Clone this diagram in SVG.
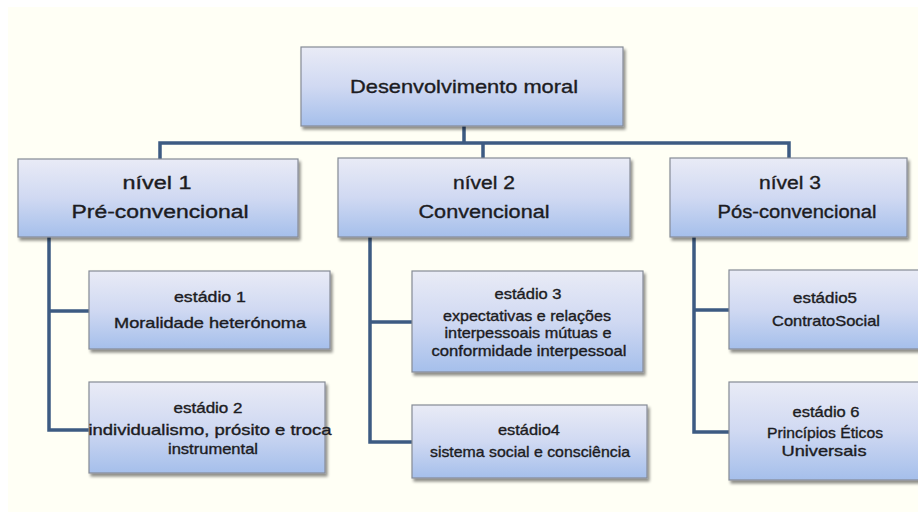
<svg xmlns="http://www.w3.org/2000/svg" width="918" height="518" viewBox="0 0 918 518">
  <defs>
    <linearGradient id="boxFill" x1="0" y1="0" x2="0" y2="1">
      <stop offset="0" stop-color="#e9ebf6"/>
      <stop offset="0.5" stop-color="#d0d9f2"/>
      <stop offset="1" stop-color="#a5bfeb"/>
    </linearGradient>
    <filter id="shadow" x="-5%" y="-5%" width="115%" height="120%">
      <feGaussianBlur in="SourceAlpha" stdDeviation="1.6"/>
      <feOffset dx="2" dy="2.5" result="b"/>
      <feComponentTransfer><feFuncA type="linear" slope="0.45"/></feComponentTransfer>
      <feMerge><feMergeNode/><feMergeNode in="SourceGraphic"/></feMerge>
    </filter>
  </defs>
  <style>
    .box { fill: url(#boxFill); stroke: #858b96; stroke-width: 1.2; filter: url(#shadow); }
    .t { font-family: "Liberation Sans", Arial, sans-serif; fill: #1c1c22; stroke: #1c1c22; stroke-width: 0.35; text-anchor: middle; }
    .top { font-size: 19px; }
    .lvl { font-size: 18px; }
    .st { font-size: 14.5px; }
    .conn { fill: none; stroke: #3d5b82; stroke-width: 3.5; stroke-linejoin: miter; }
  </style>

  <!-- page -->
  <rect x="0" y="0" width="918" height="518" fill="#ffffff"/>
  <rect x="8" y="7" width="910" height="505" fill="#fffff5"/>

  <!-- connectors -->
  <g id="connectors">
    <path class="conn" d="M464 126 V143 M160 159 V143 H789 V158 M483 143 V158"/>
    <path class="conn" d="M49 237 V430 H89 M49 311 H89"/>
    <path class="conn" d="M370 237 V442 H412 M370 322 H412"/>
    <path class="conn" d="M694 237 V432 H729 M694 310 H729"/>
  </g>

  <!-- root -->
  <g id="node-root">
    <rect class="box" x="301" y="47" width="322" height="79"/>
    <text class="t top" x="464" y="93" textLength="228" lengthAdjust="spacingAndGlyphs">Desenvolvimento moral</text>
  </g>

  <!-- levels -->
  <g id="node-nivel1">
    <rect class="box" x="18" y="159" width="280" height="78"/>
    <text class="t lvl" x="157" y="189" textLength="69" lengthAdjust="spacingAndGlyphs">nível 1</text>
    <text class="t lvl" x="160" y="218" textLength="177" lengthAdjust="spacingAndGlyphs">Pré-convencional</text>
  </g>
  <g id="node-nivel2">
    <rect class="box" x="338" y="158" width="292" height="79"/>
    <text class="t lvl" x="484" y="189" textLength="62" lengthAdjust="spacingAndGlyphs">nível 2</text>
    <text class="t lvl" x="484" y="218" textLength="131" lengthAdjust="spacingAndGlyphs">Convencional</text>
  </g>
  <g id="node-nivel3">
    <rect class="box" x="670" y="158" width="237" height="79"/>
    <text class="t lvl" x="790" y="189" textLength="62" lengthAdjust="spacingAndGlyphs">nível 3</text>
    <text class="t lvl" x="797" y="218" textLength="159" lengthAdjust="spacingAndGlyphs">Pós-convencional</text>
  </g>

  <!-- stages -->
  <g id="node-estadio1">
    <rect class="box" x="89" y="271" width="241" height="78"/>
    <text class="t st" x="210" y="302" textLength="72" lengthAdjust="spacingAndGlyphs">estádio 1</text>
    <text class="t st" x="210" y="328" textLength="192" lengthAdjust="spacingAndGlyphs">Moralidade heterónoma</text>
  </g>
  <g id="node-estadio2">
    <rect class="box" x="89" y="382" width="236" height="91"/>
    <text class="t st" x="208" y="413" textLength="69" lengthAdjust="spacingAndGlyphs">estádio 2</text>
    <text class="t st" x="210" y="435" textLength="243" lengthAdjust="spacingAndGlyphs">individualismo, prósito e troca</text>
    <text class="t st" x="213" y="454" textLength="90" lengthAdjust="spacingAndGlyphs">instrumental</text>
  </g>
  <g id="node-estadio3">
    <rect class="box" x="412" y="271" width="231" height="101"/>
    <text class="t st" x="528" y="299" textLength="67" lengthAdjust="spacingAndGlyphs">estádio 3</text>
    <text class="t st" x="527" y="321" textLength="168" lengthAdjust="spacingAndGlyphs">expectativas e relações</text>
    <text class="t st" x="528" y="338" textLength="167" lengthAdjust="spacingAndGlyphs">interpessoais mútuas e</text>
    <text class="t st" x="529" y="356" textLength="195" lengthAdjust="spacingAndGlyphs">conformidade interpessoal</text>
  </g>
  <g id="node-estadio4">
    <rect class="box" x="412" y="405" width="235" height="73"/>
    <text class="t st" x="529" y="435" textLength="62" lengthAdjust="spacingAndGlyphs">estádio4</text>
    <text class="t st" x="530" y="457" textLength="200" lengthAdjust="spacingAndGlyphs">sistema social e consciência</text>
  </g>
  <g id="node-estadio5">
    <rect class="box" x="729" y="270" width="192" height="79"/>
    <text class="t st" x="825" y="303" textLength="64" lengthAdjust="spacingAndGlyphs">estádio5</text>
    <text class="t st" x="826" y="326" textLength="108" lengthAdjust="spacingAndGlyphs">ContratoSocial</text>
  </g>
  <g id="node-estadio6">
    <rect class="box" x="729" y="382" width="192" height="98"/>
    <text class="t st" x="826" y="417" textLength="67" lengthAdjust="spacingAndGlyphs">estádio 6</text>
    <text class="t st" x="825" y="438" textLength="116" lengthAdjust="spacingAndGlyphs">Princípios Éticos</text>
    <text class="t st" x="824" y="456" textLength="85" lengthAdjust="spacingAndGlyphs">Universais</text>
  </g>
</svg>
